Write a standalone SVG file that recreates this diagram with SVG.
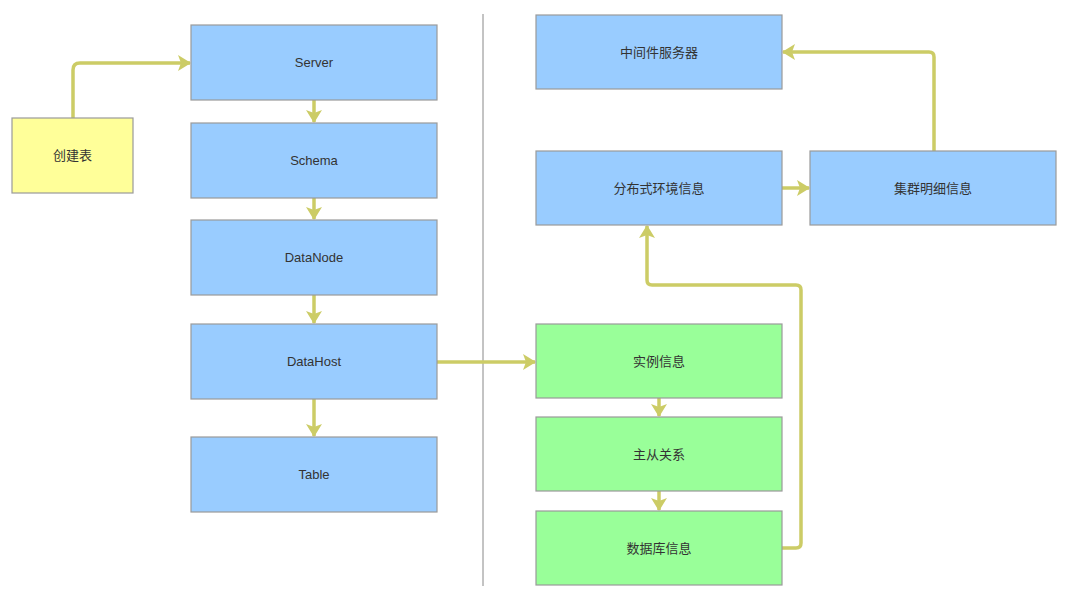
<svg xmlns="http://www.w3.org/2000/svg" width="1080" height="604" viewBox="0 0 1080 604">
<style>
.n{stroke:#9a9a9a;stroke-width:1.2}
.b{fill:#99ccff}.g{fill:#99ff99}.y{fill:#ffff99}
.t{font-family:"Liberation Sans","Noto Sans CJK SC",sans-serif;font-size:13px;fill:#333;text-anchor:middle;dominant-baseline:central}
.c{fill:none;stroke:#cccc66;stroke-width:3.5;stroke-linejoin:round;marker-end:url(#ah)}
</style>
<defs>
<marker id="ah" markerUnits="userSpaceOnUse" markerWidth="14" markerHeight="16" viewBox="0 0 14 16" refX="12" refY="8" orient="auto">
<path d="M0,0 L13,8 L0,16 L3,8 Z" fill="#cccc66"/>
</marker>
</defs>
<rect width="1080" height="604" fill="#fff"/>
<line x1="483" y1="14" x2="483" y2="586" stroke="#888" stroke-width="1"/>
<g id="connectors">
<path class="c" d="M73,118 V70 Q73,63 80,63 H190"/>
<path class="c" d="M314,100 V122"/>
<path class="c" d="M314,198 V219"/>
<path class="c" d="M314,295 V323"/>
<path class="c" d="M314,399 V436"/>
<path class="c" d="M437,362 H535"/>
<path class="c" d="M659,398 V416"/>
<path class="c" d="M659,491 V510"/>
<path class="c" d="M782,548 H796 Q801,548 801,543 V290 Q801,285 796,285 H652 Q647,285 647,280 V226"/>
<path class="c" d="M782,188 H809"/>
<path class="c" d="M934,151 V57 Q934,52 929,52 H783"/>
</g>
<g id="n-create"><rect class="n y" x="12" y="118" width="121" height="75"/><text class="t" x="72.5" y="155.5">创建表</text></g>
<g id="n-server"><rect class="n b" x="191" y="25" width="246" height="75"/><text class="t" x="314" y="62.5">Server</text></g>
<g id="n-schema"><rect class="n b" x="191" y="123" width="246" height="75"/><text class="t" x="314" y="160.5">Schema</text></g>
<g id="n-datanode"><rect class="n b" x="191" y="220" width="246" height="75"/><text class="t" x="314" y="257.5">DataNode</text></g>
<g id="n-datahost"><rect class="n b" x="191" y="324" width="246" height="75"/><text class="t" x="314" y="361.5">DataHost</text></g>
<g id="n-table"><rect class="n b" x="191" y="437" width="246" height="75"/><text class="t" x="314" y="474.5">Table</text></g>
<g id="n-middleware"><rect class="n b" x="536" y="15" width="246" height="74"/><text class="t" x="659" y="52">中间件服务器</text></g>
<g id="n-dist"><rect class="n b" x="536" y="151" width="246" height="74"/><text class="t" x="659" y="188">分布式环境信息</text></g>
<g id="n-cluster"><rect class="n b" x="810" y="151" width="246" height="74"/><text class="t" x="933" y="188">集群明细信息</text></g>
<g id="n-instance"><rect class="n g" x="536" y="324" width="246" height="74"/><text class="t" x="659" y="361">实例信息</text></g>
<g id="n-ms"><rect class="n g" x="536" y="417" width="246" height="74"/><text class="t" x="659" y="454">主从关系</text></g>
<g id="n-db"><rect class="n g" x="536" y="511" width="246" height="74"/><text class="t" x="659" y="548">数据库信息</text></g>
</svg>
